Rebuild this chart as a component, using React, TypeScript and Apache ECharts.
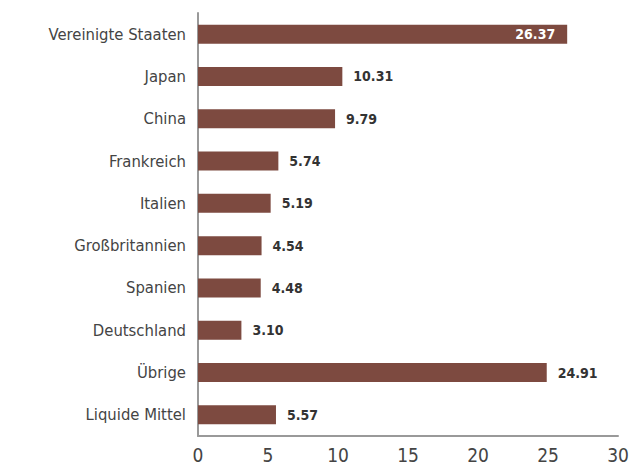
import React, { useEffect, useRef } from "react";
import * as echarts from "echarts";

const categories = [
  "Vereinigte Staaten",
  "Japan",
  "China",
  "Frankreich",
  "Italien",
  "Großbritannien",
  "Spanien",
  "Deutschland",
  "Übrige",
  "Liquide Mittel",
];
const values = [26.37, 10.31, 9.79, 5.74, 5.19, 4.54, 4.48, 3.1, 24.91, 5.57];
const insideLabelIndex = [0];

const FONT = "'DejaVu Sans Condensed', 'Liberation Sans Narrow', sans-serif";
const BAR_COLOR = "#7D4A40";

export default function App() {
  const ref = useRef<HTMLDivElement>(null);
  useEffect(() => {
    if (!ref.current) return;
    const chart = echarts.init(ref.current, undefined, { renderer: "svg" });
    chart.setOption({
      animation: false,
      grid: { left: 190, top: 5, width: 420, height: 423, containLabel: false },
      xAxis: {
        type: "value",
        min: 0,
        max: 30,
        interval: 5,
        axisLine: { show: true, lineStyle: { color: "#999", width: 2 } },
        axisTick: { show: false },
        splitLine: { show: false },
        axisLabel: { color: "#444", fontFamily: FONT, fontSize: 19, margin: 9 },
      },
      yAxis: {
        type: "category",
        inverse: true,
        data: categories,
        axisLine: { show: true, lineStyle: { color: "#999", width: 2 } },
        axisTick: { show: false },
        axisLabel: { color: "#444", fontFamily: FONT, fontSize: 16.5, margin: 12 },
      },
      series: [
        {
          type: "bar",
          barWidth: 19,
          itemStyle: { color: BAR_COLOR },
          data: values.map((v, i) => {
            const inside = insideLabelIndex.includes(i);
            return {
              value: v,
              label: {
                show: true,
                position: inside ? "insideRight" : "right",
                distance: inside ? 12 : 11,
                color: inside ? "#fff" : "#333",
                fontFamily: FONT,
                fontWeight: "bold",
                fontSize: 14,
                formatter: (p: any) => p.value.toFixed(2),
              },
            };
          }),
        },
      ],
    });
    return () => chart.dispose();
  }, []);
  return <div ref={ref} style={{ width: 626, height: 457 }} />;
}
